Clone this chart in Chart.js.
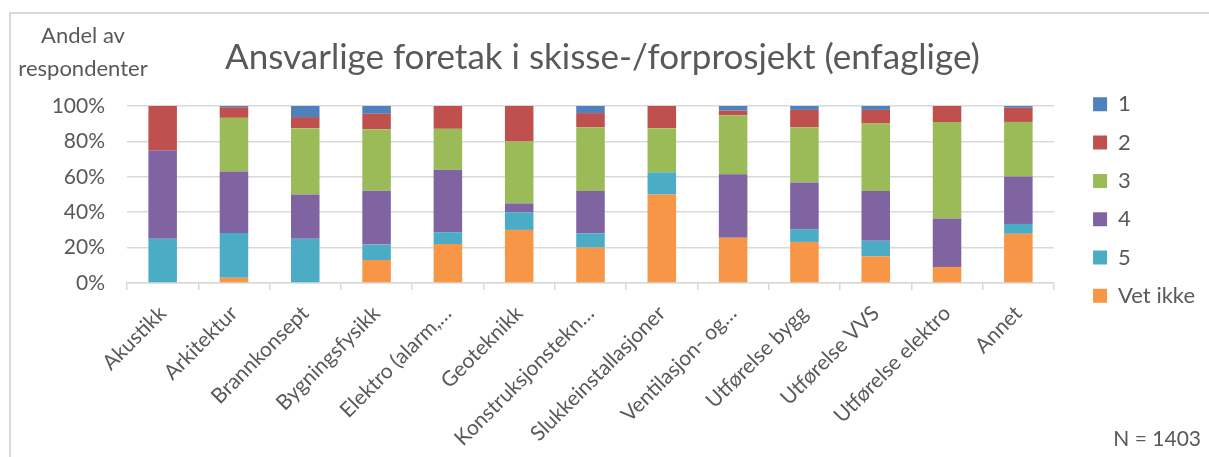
<!DOCTYPE html>
<html>
<head>
<meta charset="utf-8">
<script src="https://cdn.jsdelivr.net/npm/chart.js@4.4.1/dist/chart.umd.min.js"></script>
<style>
  html, body { margin: 0; padding: 0; background: #fff; }
  #wrap { position: relative; width: 1209px; height: 457px; overflow: hidden; }
  #frame { position: absolute; left: 9px; top: 12px; width: 1220px; height: 460px;
           border-left: 2px solid #d9d9d9; border-top: 2px solid #d9d9d9; pointer-events: none; }
  canvas { position: absolute; left: 0; top: 0; }
</style>
</head>
<body>
<div id="wrap">
  <canvas id="myChart" width="1209" height="457"></canvas>
  <div id="frame"></div>
</div>
<script>
var categories = ['Akustikk', 'Arkitektur', 'Brannkonsept', 'Bygningsfysikk', 'Elektro (alarm,…',
    'Geoteknikk', 'Konstruksjonstekn…', 'Slukkeinstallasjoner', 'Ventilasjon- og…',
    'Utførelse bygg', 'Utførelse VVS', 'Utførelse elektro', 'Annet'];

// andel (%) per svaralternativ, fra bunn til topp i stolpen
var vetIkke = [0, 3, 0, 13, 22, 30, 20, 50, 25.6, 23.2, 15.1, 9.1, 27.8];
var svar5 = [25, 25.3, 25, 8.7, 6.7, 10, 8, 12.5, 0, 7.2, 8.7, 0, 5.6];
var svar4 = [50, 34.7, 25, 30.4, 35.3, 5, 24, 0, 35.9, 26.4, 28.2, 27.3, 26.8];
var svar3 = [0, 30.3, 37.5, 34.8, 23.1, 35, 36, 25, 33.3, 31.2, 38.1, 54.5, 30.8];
var svar2 = [25, 6, 6.25, 8.7, 12.9, 20, 8, 12.5, 2.6, 9.8, 7.7, 9.1, 8];
var svar1 = [0, 0.7, 6.25, 4.4, 0, 0, 4, 0, 2.6, 2.2, 2.2, 0, 1];

var yTicks = [0, 20, 40, 60, 80, 100];

var textColor = '#595959';
var gridColor = '#d9d9d9';
var fontFamily = 'Lato';

// aksetittel oppe til venstre og antall svar nede til høyre
var extraText = {
    id: 'extraText',
    afterDraw: function (chart) {
        var ctx = chart.ctx;
        ctx.save();
        ctx.fillStyle = textColor;
        ctx.font = '22px ' + fontFamily;
        ctx.textAlign = 'center';
        ctx.textBaseline = 'middle';
        ctx.fillText('Andel av', 83, 36);
        ctx.fillText('respondenter', 83, 69);
        ctx.font = '21px ' + fontFamily;
        ctx.textAlign = 'right';
        ctx.fillText('N = 1403', 1201, 439);
        ctx.restore();
    }
};

function drawChart() {
    var ctx = document.getElementById('myChart').getContext('2d');

    new Chart(ctx, {
        type: 'bar',
        data: {
            labels: categories,
            datasets: [
                { label: 'Vet ikke', data: vetIkke, backgroundColor: '#F79646' },
                { label: '5', data: svar5, backgroundColor: '#4BACC6' },
                { label: '4', data: svar4, backgroundColor: '#8064A2' },
                { label: '3', data: svar3, backgroundColor: '#9BBB59' },
                { label: '2', data: svar2, backgroundColor: '#C0504D' },
                { label: '1', data: svar1, backgroundColor: '#4F81BD' }
            ]
        },
        options: {
            responsive: false,
            animation: false,
            layout: { padding: { left: 0, right: 4, top: 0, bottom: 0 } },
            datasets: {
                bar: { categoryPercentage: 1, barPercentage: 0.4, borderWidth: 0 }
            },
            scales: {
                x: {
                    stacked: true,
                    grid: { offset: true, drawOnChartArea: false, drawTicks: true, tickLength: 7, color: gridColor, lineWidth: 1.5 },
                    border: { display: true, color: gridColor, width: 1.5 },
                    ticks: {
                        color: textColor,
                        font: { family: fontFamily, size: 21 },
                        minRotation: 45,
                        maxRotation: 45,
                        autoSkip: false,
                        padding: 11
                    },
                    afterFit: function (scale) { scale.height = 174; }
                },
                y: {
                    stacked: true,
                    min: 0,
                    max: 100,
                    grid: { color: gridColor, lineWidth: 1.5, drawTicks: false },
                    border: { display: false },
                    afterBuildTicks: function (scale) {
                        scale.ticks = yTicks.map(function (v) { return { value: v }; });
                    },
                    ticks: {
                        color: textColor,
                        font: { family: fontFamily, size: 21 },
                        padding: 22,
                        callback: function (v) { return v + '%'; }
                    },
                    afterFit: function (scale) { scale.width = 127; }
                },
                // tom akse som holder avstand mellom plottet og forklaringen
                yGap: {
                    type: 'linear',
                    position: 'right',
                    display: true,
                    grid: { display: false },
                    border: { display: false },
                    ticks: { display: false },
                    afterFit: function (scale) {
                        var legendWidth = scale.chart.legend ? scale.chart.legend.width : 0;
                        scale.width = Math.max(0, scale.chart.width - 4 - legendWidth - 1054);
                    }
                }
            },
            plugins: {
                title: {
                    display: true,
                    text: 'Ansvarlige foretak i skisse-/forprosjekt (enfaglige)',
                    color: textColor,
                    font: { family: fontFamily, size: 35, weight: 'normal' },
                    padding: { top: 37, bottom: 27 }
                },
                legend: {
                    position: 'right',
                    align: 'start',
                    reverse: true,
                    title: { display: true, text: '', font: { size: 10, lineHeight: 1 }, padding: { top: 67, bottom: 0 } },
                    labels: {
                        color: textColor,
                        font: { family: fontFamily, size: 22 },
                        boxWidth: 14,
                        boxHeight: 14,
                        padding: 16.3
                    }
                },
                tooltip: { enabled: false }
            }
        },
        plugins: [extraText]
    });
}

document.fonts.load('20px ' + fontFamily).then(drawChart, drawChart);
</script>
</body>
</html>
